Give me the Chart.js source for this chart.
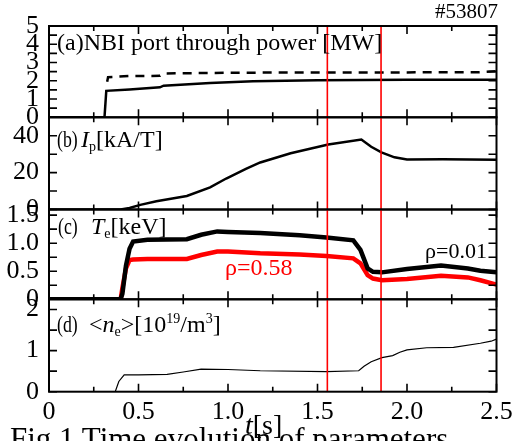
<!DOCTYPE html>
<html>
<head>
<meta charset="utf-8">
<script src="https://cdn.jsdelivr.net/npm/chart.js@4.4.1/dist/chart.umd.min.js"></script>
<style>
  html, body { margin: 0; padding: 0; background: #fff; }
  #wrap { position: relative; width: 519px; height: 441px; overflow: hidden; background: #fff;
          font-family: 'Liberation Serif', 'Times New Roman', serif; color: #000; }
  #wrap canvas { position: absolute; left: 0; top: 0; }
  .txt { position: absolute; white-space: nowrap; line-height: 1; }
  .tag { transform: scaleX(0.74); transform-origin: left center; }
  .sub { font-size: 14px; position: relative; top: 4px; }
  .sup { font-size: 14px; position: relative; top: -9px; }
</style>
</head>
<body>
<div id="wrap">
  <canvas id="pa" width="519" height="441"></canvas>
  <canvas id="pb" width="519" height="441"></canvas>
  <canvas id="pc" width="519" height="441"></canvas>
  <canvas id="pd" width="519" height="441"></canvas>

  <div class="txt" style="right:21px; top:1px; font-size:21px;">#53807</div>
  <div class="txt" style="left:57px; top:29.5px; font-size:24px;">(a)NBI port through power [MW]</div>
  <div class="txt tag" style="left:57px; top:126.5px; font-size:24px;">(b)</div>
  <div class="txt" style="left:81px; top:126.5px; font-size:24px;"><i>I</i><span class="sub">p</span>[kA/T]</div>
  <div class="txt tag" style="left:58px; top:213.5px; font-size:24px;">(c)</div>
  <div class="txt" style="left:91px; top:213.5px; font-size:24px;"><i>T</i><span class="sub">e</span>[keV]</div>
  <div class="txt tag" style="left:57px; top:311.5px; font-size:24px;">(d)</div>
  <div class="txt" style="left:89px; top:311.5px; font-size:24px;">&lt;<i>n</i><span class="sub">e</span>&gt;[10<span class="sup">19</span>/m<span class="sup">3</span>]</div>
  <div class="txt" style="left:225px; top:255px; font-size:24px; color:#ff0000;">ρ=0.58</div>
  <div class="txt" style="left:425px; top:240px; font-size:22px;">ρ=0.01</div>
  <div class="txt" style="left:245px; top:411px; font-size:28px;"><i>t</i>[s]</div>
  <div class="txt" style="left:10px; top:422.5px; font-size:31px;">Fig.1 Time evolution of parameters</div>
</div>

<script>
'use strict';

// ----- time axis -----
var xTickValues = [0, 0.5, 1.0, 1.5, 2.0, 2.5];
var xTickLabels = ['0', '0.5', '1.0', '1.5', '2.0', '2.5'];
var xMinorTicks = [0.25, 0.75, 1.25, 1.75, 2.25];
var markerTimes = [1.555, 1.855];

// ----- (a) NBI port through power [MW] -----
var tNbiSolid = [0, 0.31, 0.32, 0.45, 0.62, 0.64, 0.9, 1.14, 1.5, 2.0, 2.5];
var nbiSolid  = [0, 0, 1.45, 1.52, 1.64, 1.73, 1.88, 1.98, 2.03, 2.05, 2.05];
var tNbiDash  = [0.325, 0.33, 0.45, 0.62, 0.64, 1.0, 1.5, 2.0, 2.4, 2.5];
var nbiDash   = [1.95, 2.2, 2.26, 2.27, 2.4, 2.44, 2.46, 2.46, 2.47, 2.52];
var yTicksA   = [0, 1, 2, 3, 4, 5];
var yLabelsA  = ['0', '1', '2', '3', '4', '5'];
var yMinorA   = [0.5, 1.5, 2.5, 3.5, 4.5];

// ----- (b) Ip [kA/T] -----
var tIp = [0, 0.4, 0.45, 0.51, 0.6, 0.77, 0.9, 0.99, 1.1, 1.18, 1.35, 1.56, 1.745, 1.8, 1.857, 1.93, 2.0, 2.2, 2.5];
var ip  = [0, 0, 0.8, 2.5, 4.5, 7.3, 12, 16.8, 22, 25.5, 30.5, 35.2, 37.9, 34, 31, 28.3, 27.1, 27.2, 27.0];
var yTicksB  = [0, 20, 40];
var yLabelsB = ['0', '20', '40'];
var yMinorB  = [10, 30];

// ----- (c) Te [keV] -----
var tTe    = [0, 0.40, 0.41, 0.43, 0.45, 0.47, 0.55, 0.77, 0.85, 0.94, 1.0, 1.18, 1.4, 1.55, 1.70, 1.74, 1.78, 1.81, 1.86, 2.0, 2.19, 2.34, 2.41, 2.5];
var teCore = [0, 0, 0.1, 0.6, 0.9, 1.03, 1.06, 1.07, 1.15, 1.21, 1.2, 1.18, 1.14, 1.10, 1.05, 0.88, 0.55, 0.49, 0.48, 0.54, 0.60, 0.55, 0.51, 0.48];
var teMid  = [0, 0, 0.2, 0.55, 0.70, 0.71, 0.72, 0.72, 0.79, 0.85, 0.85, 0.82, 0.80, 0.77, 0.73, 0.64, 0.43, 0.37, 0.34, 0.36, 0.42, 0.39, 0.34, 0.26];
var yTicksC  = [0, 0.5, 1.0, 1.5];
var yLabelsC = ['0', '0.5', '1.0', '1.5'];
var yMinorC  = [0.25, 0.75, 1.25];

// ----- (d) <ne> [10^19/m^3] -----
var tNe = [0, 0.37, 0.39, 0.42, 0.5, 0.66, 0.75, 0.85, 1.0, 1.18, 1.55, 1.73, 1.76, 1.80, 1.86, 1.92, 1.96, 2.0, 2.11, 2.26, 2.41, 2.47, 2.5];
var ne  = [0, 0, 0.25, 0.41, 0.41, 0.42, 0.48, 0.55, 0.54, 0.51, 0.49, 0.51, 0.62, 0.73, 0.83, 0.88, 0.96, 1.02, 1.07, 1.08, 1.18, 1.23, 1.28];
var yTicksD  = [0, 1, 2];
var yLabelsD = ['0', '1', '2'];
var yMinorD  = [0.5, 1.5];

var W = 519, H = 441;
var PLOT_LEFT = 49, PLOT_RIGHT = 496.5;
var X_AXIS_H = 40;
var FONT = "'Liberation Serif', 'Times New Roman', serif";

function pairs(xs, ys) {
  var out = [];
  for (var i = 0; i < xs.length; i++) out.push({ x: xs[i], y: ys[i] });
  return out;
}

function line(xs, ys, color, width, dash) {
  return {
    data: pairs(xs, ys),
    borderColor: color,
    borderWidth: width,
    borderDash: dash || [],
    pointRadius: 0,
    tension: 0,
    fill: false
  };
}

// frame, inward ticks and the red time markers
var framePlugin = {
  id: 'frame',
  afterDatasetsDraw: function (chart, args, opts) {
    var ctx = chart.ctx;
    var a = chart.chartArea;
    var xs = chart.scales.x;
    var ys = chart.scales.y;
    var i, px, py;
    ctx.save();

    ctx.strokeStyle = '#ff0000';
    ctx.lineWidth = 1.6;
    for (i = 0; i < markerTimes.length; i++) {
      px = xs.getPixelForValue(markerTimes[i]);
      ctx.beginPath();
      ctx.moveTo(px, a.top);
      ctx.lineTo(px, a.bottom);
      ctx.stroke();
    }

    ctx.strokeStyle = '#000';
    ctx.lineWidth = 2;
    ctx.strokeRect(a.left, a.top, a.right - a.left, a.bottom - a.top);

    ctx.lineWidth = 1.6;
    ctx.beginPath();
    var xAll = xTickValues.map(function (v) { return [v, 8]; })
      .concat(xMinorTicks.map(function (v) { return [v, 5]; }));
    for (i = 0; i < xAll.length; i++) {
      px = xs.getPixelForValue(xAll[i][0]);
      ctx.moveTo(px, a.bottom); ctx.lineTo(px, a.bottom - xAll[i][1]);
      ctx.moveTo(px, a.top); ctx.lineTo(px, a.top + xAll[i][1]);
    }
    var yAll = opts.yTicks.concat(opts.yMinor);
    for (i = 0; i < yAll.length; i++) {
      py = ys.getPixelForValue(yAll[i]);
      ctx.moveTo(a.left, py); ctx.lineTo(a.left + 8, py);
      ctx.moveTo(a.right, py); ctx.lineTo(a.right - 8, py);
    }
    ctx.stroke();
    ctx.restore();
  }
};

function makePanel(id, top, bottom, yMax, yTicks, yLabels, yMinor, datasets, showX) {
  return new Chart(document.getElementById(id).getContext('2d'), {
    type: 'line',
    data: { datasets: datasets },
    plugins: [framePlugin],
    options: {
      responsive: false,
      animation: false,
      events: [],
      layout: {
        padding: {
          left: 0,
          right: W - PLOT_RIGHT,
          top: top,
          bottom: H - bottom - (showX ? X_AXIS_H : 0)
        }
      },
      plugins: {
        legend: { display: false },
        tooltip: { enabled: false },
        frame: { yTicks: yTicks, yMinor: yMinor }
      },
      scales: {
        x: {
          type: 'linear',
          min: 0,
          max: 2.5,
          display: showX,
          afterFit: function (s) { s.height = showX ? X_AXIS_H : 0; },
          afterBuildTicks: function (s) {
            s.ticks = xTickValues.map(function (v) { return { value: v }; });
          },
          grid: { display: false, drawTicks: false },
          border: { display: false },
          ticks: {
            autoSkip: false,
            maxRotation: 0,
            padding: 5,
            color: '#000',
            font: { family: FONT, size: 26 },
            callback: function (v, i) { return xTickLabels[i]; }
          }
        },
        y: {
          type: 'linear',
          min: 0,
          max: yMax,
          afterFit: function (s) { s.width = PLOT_LEFT; },
          afterBuildTicks: function (s) {
            s.ticks = yTicks.map(function (v) { return { value: v }; });
          },
          grid: { display: false, drawTicks: false },
          border: { display: false },
          ticks: {
            autoSkip: false,
            padding: 10,
            color: '#000',
            font: { family: FONT, size: 26 },
            callback: function (v, i) { return yLabels[i]; }
          }
        }
      }
    }
  });
}

makePanel('pa', 26, 117.3, 5, yTicksA, yLabelsA, yMinorA, [
  line(tNbiDash, nbiDash, '#000', 2.5, [9, 7]),
  line(tNbiSolid, nbiSolid, '#000', 2.5)
], false);

makePanel('pb', 117.3, 209.5, 50, yTicksB, yLabelsB, yMinorB, [
  line(tIp, ip, '#000', 2.5)
], false);

makePanel('pc', 209.5, 299.3, 1.6, yTicksC, yLabelsC, yMinorC, [
  line(tTe, teCore, '#000', 4.5),
  line(tTe, teMid, '#ff0000', 4.5)
], false);

makePanel('pd', 299.3, 391.7, 2.25, yTicksD, yLabelsD, yMinorD, [
  line(tNe, ne, '#000', 1.2)
], true);
</script>
</body>
</html>
